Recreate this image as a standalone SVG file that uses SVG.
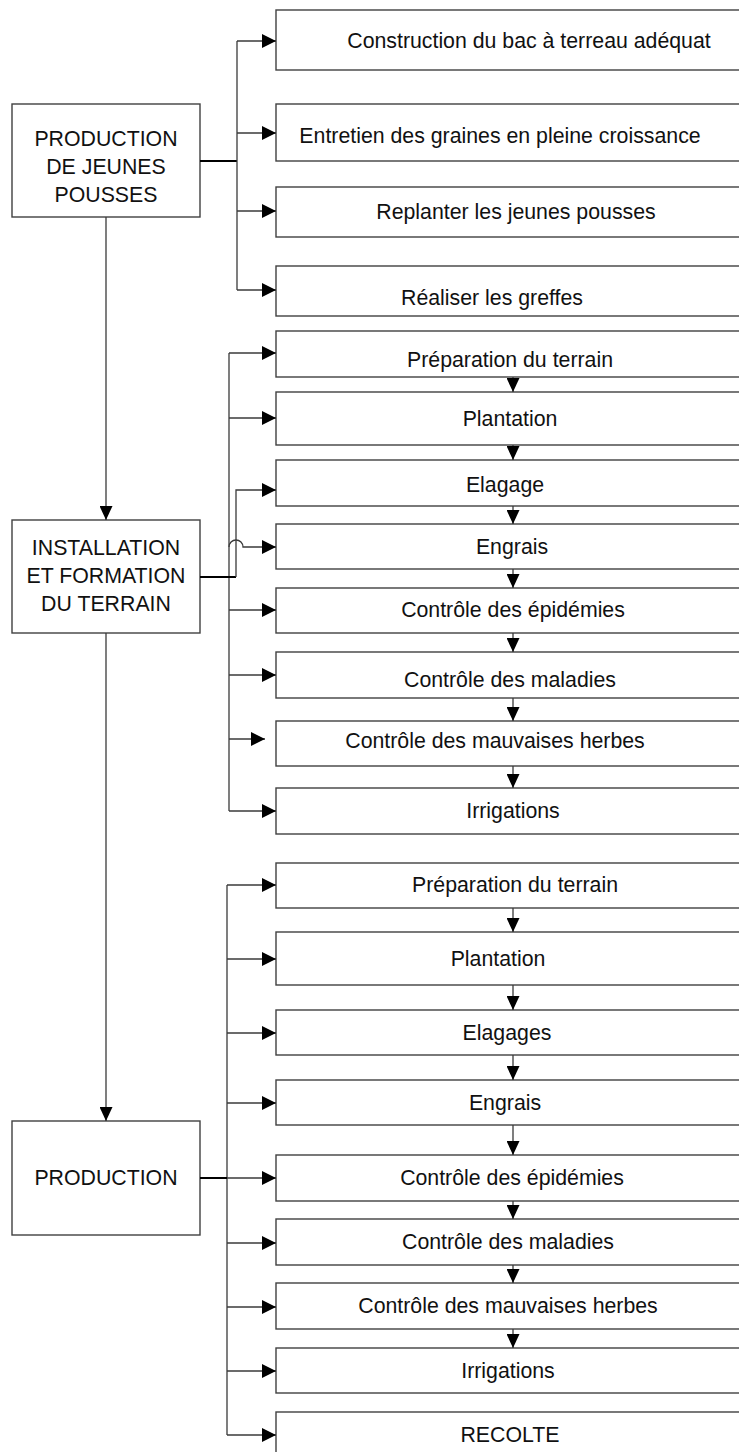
<svg xmlns="http://www.w3.org/2000/svg" width="739" height="1452" viewBox="0 0 739 1452">
<style>
.box{fill:#fff;stroke:#404040;stroke-width:1.4}
.t{font-family:"Liberation Sans",Arial,sans-serif;font-size:21.3px;fill:#111;text-anchor:middle}
.c{fill:none;stroke:#3a3a3a;stroke-width:1.3}
.o{fill:none;stroke:#000;stroke-width:2}
</style>
<defs>
<marker id="arr" viewBox="0 0 14 14" refX="14" refY="7" markerWidth="14" markerHeight="14" orient="auto" markerUnits="userSpaceOnUse">
<path d="M0,0 L14,7 L0,14 z" fill="#000"/>
</marker>
<marker id="arrv" viewBox="0 0 14 13" refX="14" refY="6.5" markerWidth="14" markerHeight="13" orient="auto" markerUnits="userSpaceOnUse">
<path d="M0,0 L14,6.5 L0,13 z" fill="#000"/>
</marker>
</defs>

<g id="n-prod-jeunes"><rect class="box" x="12" y="104" width="188" height="113"/><text class="t" x="106" y="146">PRODUCTION</text><text class="t" x="106" y="174">DE JEUNES</text><text class="t" x="106" y="202">POUSSES</text></g>
<g id="n-install"><rect class="box" x="12" y="520" width="188" height="113"/><text class="t" x="106" y="555">INSTALLATION</text><text class="t" x="106" y="583">ET FORMATION</text><text class="t" x="106" y="611">DU TERRAIN</text></g>
<g id="n-production"><rect class="box" x="12" y="1121" width="188" height="114"/><text class="t" x="106" y="1185">PRODUCTION</text></g>

<g id="n-t1"><rect class="box" x="276" y="10" width="510" height="60"/><text class="t" x="529" y="48">Construction du bac à terreau adéquat</text></g>
<g id="n-t2"><rect class="box" x="276" y="104" width="510" height="57"/><text class="t" x="500" y="143">Entretien des graines en pleine croissance</text></g>
<g id="n-t3"><rect class="box" x="276" y="187" width="510" height="50"/><text class="t" x="516" y="219">Replanter les jeunes pousses</text></g>
<g id="n-t4"><rect class="box" x="276" y="266" width="510" height="50"/><text class="t" x="492" y="305">Réaliser les greffes</text></g>

<g id="n-m1"><rect class="box" x="276" y="331" width="510" height="46"/><text class="t" x="510" y="367">Préparation du terrain</text></g>
<g id="n-m2"><rect class="box" x="276" y="392" width="510" height="53"/><text class="t" x="510" y="426">Plantation</text></g>
<g id="n-m3"><rect class="box" x="276" y="460" width="510" height="46"/><text class="t" x="505" y="492">Elagage</text></g>
<g id="n-m4"><rect class="box" x="276" y="524" width="510" height="45"/><text class="t" x="512" y="554">Engrais</text></g>
<g id="n-m5"><rect class="box" x="276" y="588" width="510" height="45"/><text class="t" x="513" y="617">Contrôle des épidémies</text></g>
<g id="n-m6"><rect class="box" x="276" y="652" width="510" height="46"/><text class="t" x="510" y="687">Contrôle des maladies</text></g>
<g id="n-m7"><rect class="box" x="276" y="721" width="510" height="45"/><text class="t" x="495" y="748">Contrôle des mauvaises herbes</text></g>
<g id="n-m8"><rect class="box" x="276" y="788" width="510" height="46"/><text class="t" x="513" y="818">Irrigations</text></g>

<g id="n-b1"><rect class="box" x="276" y="863" width="510" height="45"/><text class="t" x="515" y="892">Préparation du terrain</text></g>
<g id="n-b2"><rect class="box" x="276" y="932" width="510" height="53"/><text class="t" x="498" y="966">Plantation</text></g>
<g id="n-b3"><rect class="box" x="276" y="1010" width="510" height="45"/><text class="t" x="507" y="1040">Elagages</text></g>
<g id="n-b4"><rect class="box" x="276" y="1080" width="510" height="45"/><text class="t" x="505" y="1110">Engrais</text></g>
<g id="n-b5"><rect class="box" x="276" y="1155" width="510" height="46"/><text class="t" x="512" y="1185">Contrôle des épidémies</text></g>
<g id="n-b6"><rect class="box" x="276" y="1219" width="510" height="46"/><text class="t" x="508" y="1249">Contrôle des maladies</text></g>
<g id="n-b7"><rect class="box" x="276" y="1283" width="510" height="46"/><text class="t" x="508" y="1313">Contrôle des mauvaises herbes</text></g>
<g id="n-b8"><rect class="box" x="276" y="1348" width="510" height="45"/><text class="t" x="508" y="1378">Irrigations</text></g>
<g id="n-b9"><rect class="box" x="276" y="1412" width="510" height="50"/><text class="t" x="510" y="1442">RECOLTE</text></g>

<g id="connectors">
<!-- main vertical flow -->
<path class="c" d="M106,217 V520" marker-end="url(#arrv)"/>
<path class="c" d="M106,633 V1121" marker-end="url(#arrv)"/>

<!-- top section -->
<path class="o" d="M200,161 H237"/>
<path class="c" d="M237,41 V290"/>
<path class="c" d="M237,41 H276" marker-end="url(#arr)"/>
<path class="c" d="M237,133 H276" marker-end="url(#arr)"/>
<path class="c" d="M237,211 H276" marker-end="url(#arr)"/>
<path class="c" d="M237,290 H276" marker-end="url(#arr)"/>

<!-- middle section -->
<path class="c" d="M229,353 V811"/>
<path class="c" d="M229,353 H276" marker-end="url(#arr)"/>
<path class="c" d="M229,418 H276" marker-end="url(#arr)"/>
<path class="o" d="M200,577 H236"/>
<path class="c" d="M236,577 V490 H276" marker-end="url(#arr)"/>
<path class="c" d="M229,547 A7,7 0 0 1 243,547 H276" marker-end="url(#arr)"/>
<path class="c" d="M229,610 H276" marker-end="url(#arr)"/>
<path class="c" d="M229,675 H276" marker-end="url(#arr)"/>
<path class="c" d="M229,739 H265" marker-end="url(#arr)"/>
<path class="c" d="M229,811 H276" marker-end="url(#arr)"/>
<path class="c" d="M513,377 V392" marker-end="url(#arrv)"/>
<path class="c" d="M513,445 V460" marker-end="url(#arrv)"/>
<path class="c" d="M513,506 V524" marker-end="url(#arrv)"/>
<path class="c" d="M513,569 V588" marker-end="url(#arrv)"/>
<path class="c" d="M513,633 V652" marker-end="url(#arrv)"/>
<path class="c" d="M513,698 V721" marker-end="url(#arrv)"/>
<path class="c" d="M513,766 V788" marker-end="url(#arrv)"/>

<!-- bottom section -->
<path class="c" d="M227,885 V1435"/>
<path class="c" d="M227,885 H276" marker-end="url(#arr)"/>
<path class="c" d="M227,959 H276" marker-end="url(#arr)"/>
<path class="c" d="M227,1033 H276" marker-end="url(#arr)"/>
<path class="c" d="M227,1103 H276" marker-end="url(#arr)"/>
<path class="o" d="M200,1178 H227"/>
<path class="c" d="M227,1178 H276" marker-end="url(#arr)"/>
<path class="c" d="M227,1243 H276" marker-end="url(#arr)"/>
<path class="c" d="M227,1307 H276" marker-end="url(#arr)"/>
<path class="c" d="M227,1371 H276" marker-end="url(#arr)"/>
<path class="c" d="M227,1435 H276" marker-end="url(#arr)"/>
<path class="c" d="M513,908 V932" marker-end="url(#arrv)"/>
<path class="c" d="M513,985 V1010" marker-end="url(#arrv)"/>
<path class="c" d="M513,1055 V1080" marker-end="url(#arrv)"/>
<path class="c" d="M513,1125 V1155" marker-end="url(#arrv)"/>
<path class="c" d="M513,1201 V1219" marker-end="url(#arrv)"/>
<path class="c" d="M513,1265 V1283" marker-end="url(#arrv)"/>
<path class="c" d="M513,1329 V1348" marker-end="url(#arrv)"/>
</g>
</svg>
